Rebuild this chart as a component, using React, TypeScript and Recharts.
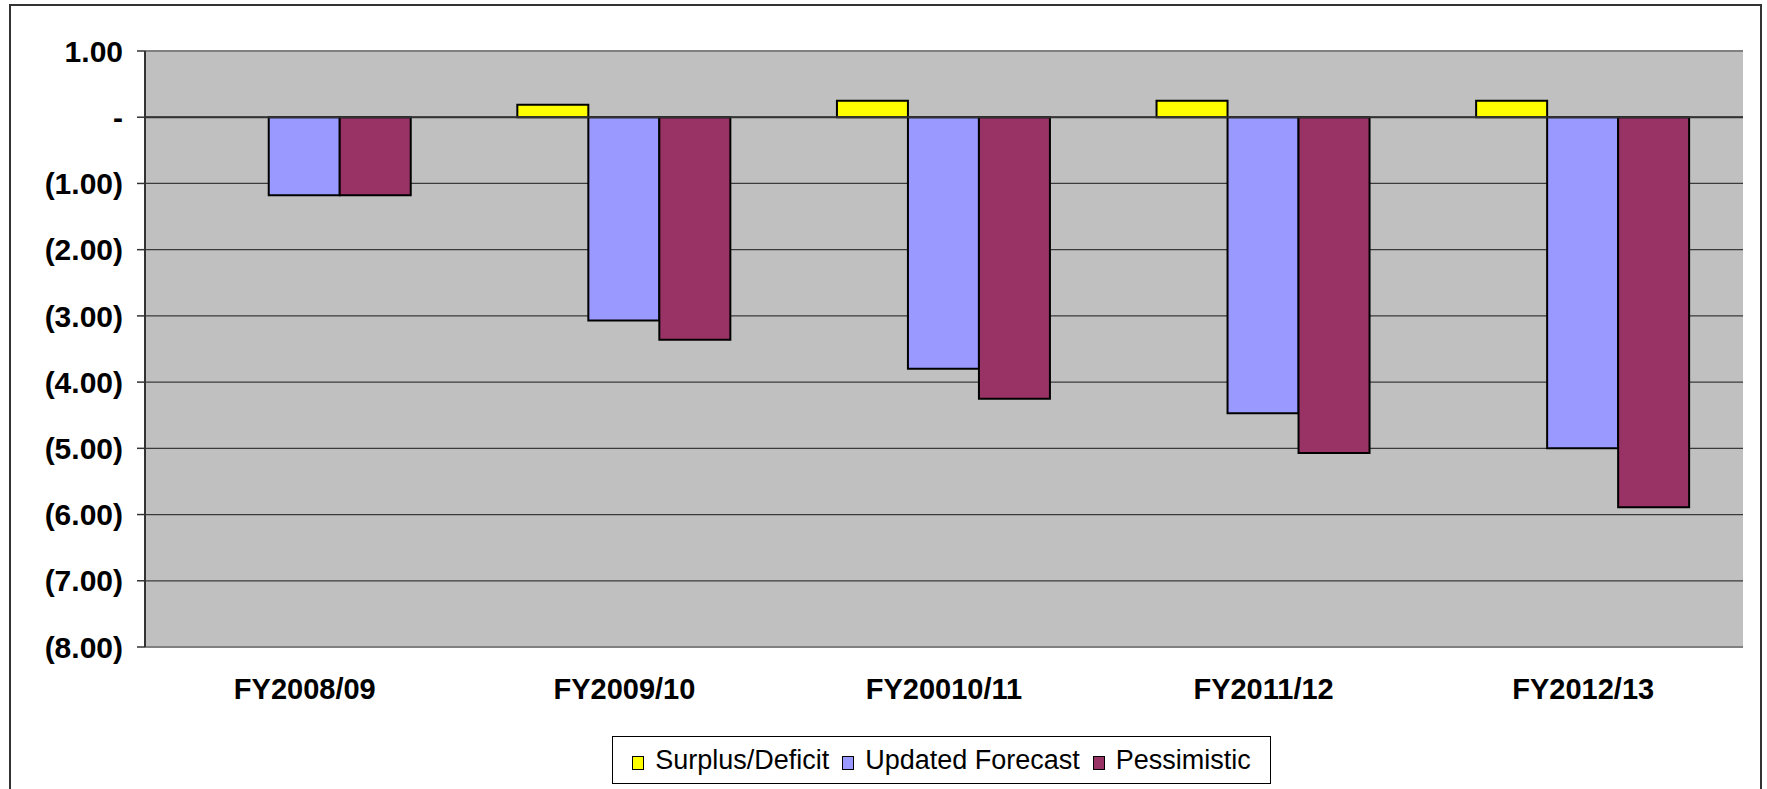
import React from 'react';
import {
  BarChart,
  Bar,
  XAxis,
  YAxis,
  CartesianGrid,
  ReferenceLine,
  Legend,
} from 'recharts';

const years = ['FY2008/09', 'FY2009/10', 'FY20010/11', 'FY2011/12', 'FY2012/13'];
const surplusDeficit = [null, 0.19, 0.25, 0.25, 0.25];
const updatedForecast = [-1.18, -3.07, -3.8, -4.47, -5.0];
const pessimistic = [-1.18, -3.36, -4.25, -5.07, -5.89];
const yTicks = [1, 0, -1, -2, -3, -4, -5, -6, -7, -8];

const chartData = years.map((year, i) => ({
  year,
  surplus: surplusDeficit[i],
  updated: updatedForecast[i],
  pessimistic: pessimistic[i],
}));

const seriesList = [
  { key: 'surplus', name: 'Surplus/Deficit', color: '#FFFF00' },
  { key: 'updated', name: 'Updated Forecast', color: '#9999FF' },
  { key: 'pessimistic', name: 'Pessimistic', color: '#993366' },
];

const font = '"Liberation Sans", Arial, sans-serif';

function formatY(v: number) {
  if (v === 0) return '-';
  if (v < 0) return `(${Math.abs(v).toFixed(2)})`;
  return v.toFixed(2);
}

function LegendBox() {
  return (
    <div
      style={{
        position: 'absolute',
        left: 612,
        top: 736,
        width: 659,
        height: 48,
        border: '1px solid #000',
        boxSizing: 'border-box',
        display: 'flex',
        alignItems: 'center',
        justifyContent: 'center',
        gap: 13,
        fontFamily: font,
        fontSize: 27,
        color: '#000',
        background: '#fff',
      }}
    >
      {seriesList.map((s) => (
        <div key={s.key} style={{ display: 'flex', alignItems: 'center', gap: 11 }}>
          <div
            style={{
              width: 10,
              height: 12,
              background: s.color,
              border: '1.5px solid #000',
              marginTop: 5,
            }}
          />
          <span>{s.name}</span>
        </div>
      ))}
    </div>
  );
}

export default function App() {
  return (
    <div
      style={{
        position: 'absolute',
        left: 0,
        top: 0,
        width: 1767,
        height: 789,
        overflow: 'hidden',
        background: '#fff',
      }}
    >
      <div
        style={{
          position: 'absolute',
          left: 9,
          top: 4,
          width: 1753,
          height: 820,
          border: '2px solid #333',
          boxSizing: 'border-box',
        }}
      />
      <BarChart
        width={1767}
        height={789}
        data={chartData}
        margin={{ top: 51, right: 24, left: 0, bottom: 0 }}
        barCategoryGap="16.5%"
        barGap={0}
        style={{ position: 'absolute', left: 0, top: 0 }}
      >
        <CartesianGrid fill="#C0C0C0" stroke="#3a3a3a" vertical={false} strokeWidth={1.2} />
        <XAxis
          dataKey="year"
          axisLine={false}
          tickLine={false}
          tickSize={0}
          tickMargin={31}
          height={142}
          interval={0}
          tick={{ fill: '#000', fontSize: 29, fontWeight: 'bold', fontFamily: font }}
        />
        <YAxis
          width={145}
          domain={[-8, 1]}
          ticks={yTicks}
          interval={0}
          tickFormatter={formatY}
          axisLine={{ stroke: '#333', strokeWidth: 2 }}
          tickLine={{ stroke: '#333', strokeWidth: 1.5 }}
          tickSize={8}
          tickMargin={14}
          tick={{ fill: '#000', fontSize: 30, fontWeight: 'bold', fontFamily: font }}
        />
        <YAxis
          yAxisId="right"
          orientation="right"
          width={0}
          domain={[-8, 1]}
          tick={false}
          tickLine={false}
          axisLine={{ stroke: '#808080', strokeWidth: 2 }}
        />
        <ReferenceLine y={0} stroke="#333" strokeWidth={2} />
        <ReferenceLine y={1} stroke="#808080" strokeWidth={2} />
        <ReferenceLine y={-8} stroke="#808080" strokeWidth={2} />
        {seriesList.map((s) => (
          <Bar
            key={s.key}
            dataKey={s.key}
            name={s.name}
            fill={s.color}
            stroke="#000"
            strokeWidth={2}
            isAnimationActive={false}
          />
        ))}
        <Legend content={() => null} />
      </BarChart>
      <LegendBox />
    </div>
  );
}
